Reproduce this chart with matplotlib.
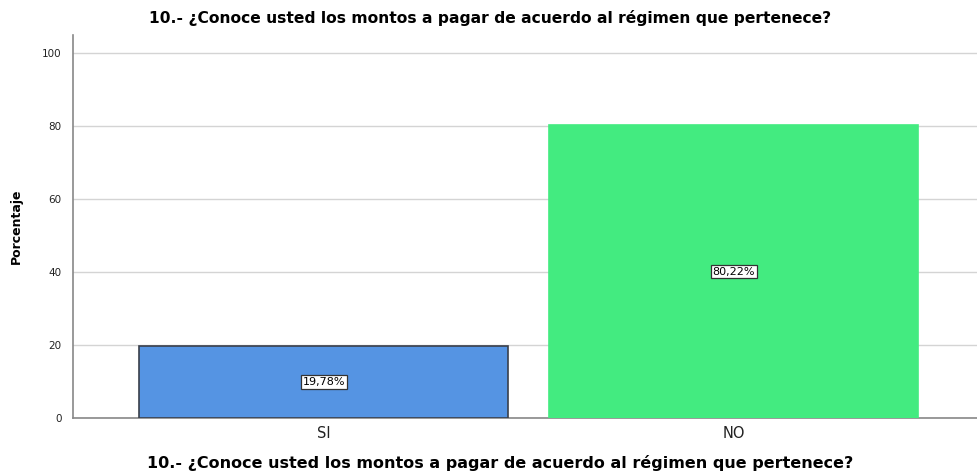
import matplotlib
matplotlib.use("Agg")
import matplotlib.pyplot as plt

categorias = ["SI", "NO"]
porcentajes = [19.78, 80.22]
etiquetas = ["19,78%", "80,22%"]
colores = ["#5594E3", "#43EB80"]
bordes = ["#3a3f4a", "#43EB80"]
titulo = "10.- ¿Conoce usted los montos a pagar de acuerdo al régimen que pertenece?"

fig = plt.figure(figsize=(9.77, 4.71), dpi=100)
ax = fig.add_axes([0.0747, 0.1125, 0.9253, 0.8132])

pos = list(range(len(categorias)))
ax.bar(pos, porcentajes, width=0.9, color=colores, edgecolor=bordes, linewidth=1.2, zorder=3)

for x, v, t in zip(pos, porcentajes, etiquetas):
    ax.text(x, v / 2, t, ha="center", va="center", fontsize=8, zorder=4,
            bbox=dict(boxstyle="square,pad=0.15", facecolor="white", edgecolor="#333333", linewidth=0.9))

ax.set_xlim(-0.612, 1.593)
ax.set_ylim(0, 105)
ax.set_yticks([0, 20, 40, 60, 80, 100])
ax.set_xticks(pos)
ax.set_xticklabels(categorias, fontsize=10.5, color="#222222")
ax.tick_params(axis="y", length=0, labelsize=7.5, pad=8, labelcolor="#222222")
ax.tick_params(axis="x", length=0, pad=6)
ax.grid(axis="y", color="#d4d4d4", linewidth=1, zorder=0)
ax.set_axisbelow(True)
for s in ["top", "right"]:
    ax.spines[s].set_visible(False)
ax.spines["left"].set_color("#888888")
ax.spines["bottom"].set_color("#888888")
ax.spines["left"].set_linewidth(1.2)
ax.spines["bottom"].set_linewidth(1.2)

ax.set_ylabel("Porcentaje", fontsize=9, fontweight="bold", fontfamily="Liberation Sans Narrow", labelpad=14)
fig.text(0.502, 0.962, titulo, ha="center", va="center", fontsize=11.2, fontweight="bold")
fig.text(0.512, 0.017, titulo, ha="center", va="center", fontsize=11.5, fontweight="bold")

fig.savefig("out.png", dpi=100)
